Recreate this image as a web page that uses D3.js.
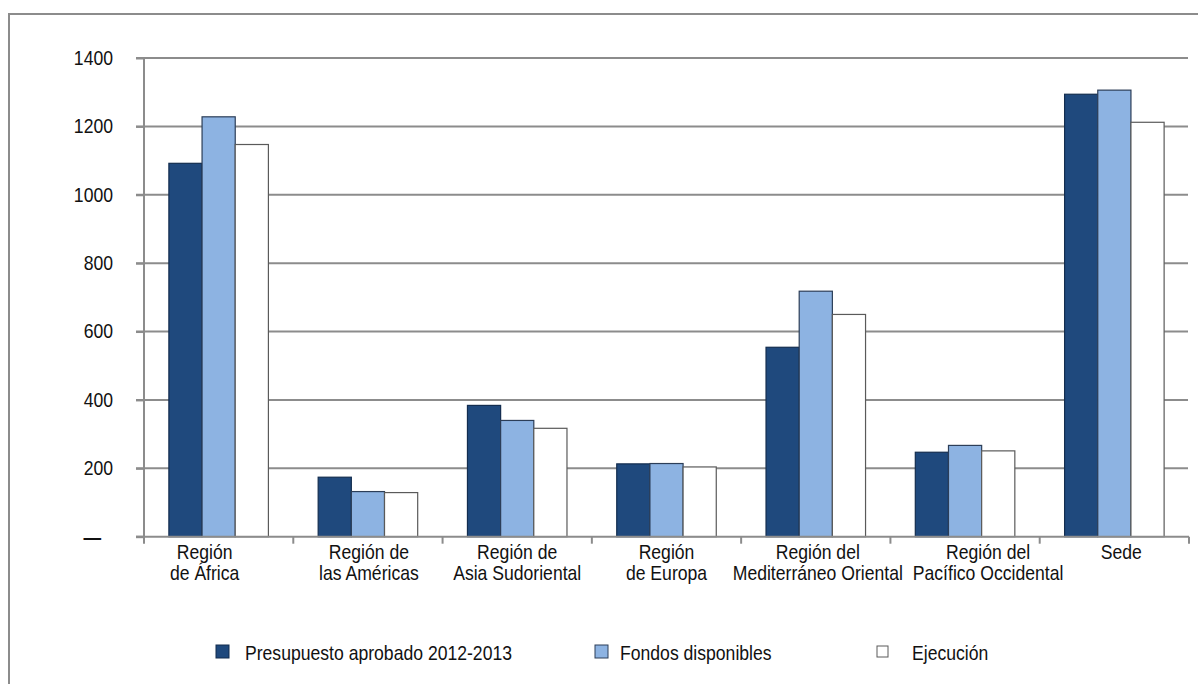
<!DOCTYPE html>
<html>
<head>
<meta charset="utf-8">
<script src="https://cdn.jsdelivr.net/npm/d3@7"></script>
<style>
  html, body { margin: 0; padding: 0; background: #fff; }
  svg { display: block; }
  text { font-family: "Liberation Sans", Arial, sans-serif; fill: #111; }
</style>
</head>
<body>
<svg id="chart" width="1198" height="684"></svg>
<script>
// Regional budget vs. available funds vs. execution (millions)
const categories = [
  ["Región", "de África"],
  ["Región de", "las Américas"],
  ["Región de", "Asia Sudoriental"],
  ["Región", "de Europa"],
  ["Región del", "Mediterráneo Oriental"],
  ["Región del", "Pacífico Occidental"],
  ["Sede"]
];
const seriesNames = ["Presupuesto aprobado 2012-2013", "Fondos disponibles", "Ejecución"];
const presupuesto = [1092, 174, 384, 213, 554, 247, 1294];
const fondos      = [1228, 132, 340, 214, 718, 267, 1306];
const ejecucion   = [1147, 129, 317, 204, 650, 251, 1212];
const yTicks = [0, 200, 400, 600, 800, 1000, 1200, 1400];

const fills   = ["#1f497d", "#8db3e2", "#ffffff"];
const strokes = ["#132d4f", "#2c3e58", "#5a5a5a"];
const gridColor = "#8c8c8c";

// narrow sans look: regular sans squeezed horizontally
const SX = 0.88;
const FS = "20px";
// horizontal nudges of the category labels so neighbours do not collide
const labelShift = [-14, 1, 0, 0, 2, 23, 7];

const svg = d3.select("#chart");
const W = 1198, H = 684;

// outer frame (top and left edges visible, the rest runs off the canvas)
svg.append("path")
  .attr("d", `M9,${H + 5} L9,14 L${W + 5},14`)
  .attr("fill", "none").attr("stroke", gridColor).attr("stroke-width", 2);

const plot = { left: 144, right: 1189, top: 58, bottom: 536.7 };

const keys = categories.map((c, i) => i);
const x0 = d3.scaleBand().domain(keys).range([plot.left, plot.right]).paddingInner(0).paddingOuter(0);
const x1 = d3.scaleBand().domain(d3.range(seriesNames.length)).range([0, x0.bandwidth()])
  .paddingInner(0).paddingOuter(0.75);
const y = d3.scaleLinear().domain([0, 1400]).range([plot.bottom, plot.top]);

// horizontal gridlines
svg.append("g")
  .selectAll("line")
  .data(yTicks.filter(d => d > 0))
  .join("line")
  .attr("x1", plot.left - 8).attr("x2", plot.right - 1)
  .attr("y1", d => y(d)).attr("y2", d => y(d))
  .attr("stroke", gridColor).attr("stroke-width", 2);

// bars
const values = [presupuesto, fondos, ejecucion];
const groups = svg.append("g").selectAll("g")
  .data(keys)
  .join("g")
  .attr("transform", i => `translate(${x0(i)},0)`);

groups.selectAll("rect")
  .data(i => values.map((arr, s) => ({ s, v: arr[i] })))
  .join("rect")
  .attr("x", d => x1(d.s))
  .attr("width", x1.bandwidth())
  .attr("y", d => y(d.v))
  .attr("height", d => y(0) - y(d.v))
  .attr("fill", d => fills[d.s])
  .attr("stroke", d => strokes[d.s])
  .attr("stroke-width", 1.2);

// y axis
const yAxis = svg.append("g")
  .attr("transform", `translate(${plot.left},0)`)
  .call(d3.axisLeft(y).tickValues(yTicks).tickSize(8).tickPadding(23)
    .tickFormat(d => d === 0 ? "—" : d3.format("d")(d)));
yAxis.select(".domain").attr("stroke", gridColor).attr("stroke-width", 2)
  .attr("d", `M-8,${plot.bottom}H0V${plot.top}H-8`);
yAxis.selectAll(".tick line").attr("stroke", gridColor).attr("stroke-width", 2);
yAxis.selectAll(".tick text")
  .style("font-size", FS).attr("fill", "#111")
  .attr("font-family", null)
  .each(function (d) {
    const t = d3.select(this);
    const x = +t.attr("x") - (d === 0 ? 12 : 0);
    t.attr("x", x / SX).attr("transform", `scale(${SX},1)`);
  });
yAxis.selectAll(".tick").filter(d => d === 0).select("text")
  .style("font-weight", "bold");

// x axis
const xAxis = svg.append("g")
  .attr("transform", `translate(0,${plot.bottom})`)
  .call(d3.axisBottom(x0).tickSize(0).tickFormat(""));
xAxis.select(".domain").attr("stroke", gridColor).attr("stroke-width", 2)
  .attr("d", `M${plot.left - 8},0H${plot.right}`);

// category boundary ticks
svg.append("g").selectAll("line")
  .data(d3.range(categories.length + 1))
  .join("line")
  .attr("x1", i => plot.left + i * x0.step()).attr("x2", i => plot.left + i * x0.step())
  .attr("y1", plot.bottom).attr("y2", plot.bottom + 7)
  .attr("stroke", gridColor).attr("stroke-width", 2);

// category labels
const labels = svg.append("g").selectAll("g")
  .data(keys)
  .join("g")
  .attr("transform", i => `translate(${x0(i) + x0.bandwidth() / 2 + labelShift[i]},559)`)
  .append("text")
  .attr("text-anchor", "middle")
  .attr("transform", `scale(${SX},1)`)
  .style("font-size", FS);
labels.selectAll("tspan")
  .data(i => categories[i])
  .join("tspan")
  .attr("x", 0)
  .attr("dy", (d, j) => j === 0 ? 0 : 21)
  .text(d => d);

// legend
const legendX = [216, 595, 877];
const legend = svg.append("g").selectAll("g")
  .data(seriesNames)
  .join("g")
  .attr("transform", (d, i) => `translate(${legendX[i]},645)`);
legend.append("rect")
  .attr("width", (d, i) => i === 2 ? 11 : 13)
  .attr("height", (d, i) => i === 2 ? 11 : 13)
  .attr("y", (d, i) => i === 2 ? 1 : 0)
  .attr("fill", (d, i) => fills[i])
  .attr("stroke", (d, i) => strokes[i])
  .attr("stroke-width", 1);
legend.append("g")
  .attr("transform", (d, i) => `translate(${[29, 25, 35][i]},15)`)
  .append("text")
  .attr("transform", `scale(${SX},1)`)
  .style("font-size", FS)
  .text(d => d);
</script>
</body>
</html>
